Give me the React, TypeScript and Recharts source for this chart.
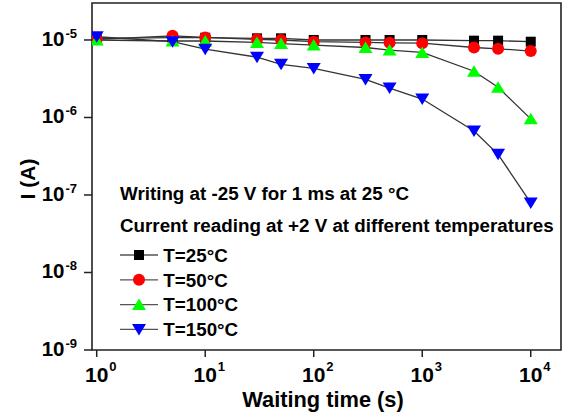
import React from "react";
import { ComposedChart, Line, XAxis, YAxis, ReferenceArea } from "recharts";

const FONT = '"Liberation Sans", Arial, Helvetica, sans-serif';

const waitingTimes = [1, 5, 10, 30, 50, 100, 300, 500, 1000, 3000, 5000, 10000];
const t25 = [1.05e-5, 1.07e-5, 1.07e-5, 1.05e-5, 1.05e-5, 1.0e-5, 1.0e-5, 1.0e-5, 1.0e-5, 0.98e-5, 0.98e-5, 0.95e-5];
const t50 = [1.02e-5, 1.13e-5, 1.08e-5, 1.02e-5, 1.0e-5, 0.95e-5, 0.93e-5, 0.92e-5, 0.91e-5, 0.8e-5, 0.77e-5, 0.72e-5];
const t100 = [1.0e-5, 0.97e-5, 0.97e-5, 0.93e-5, 0.9e-5, 0.86e-5, 0.8e-5, 0.74e-5, 0.69e-5, 3.95e-6, 2.45e-6, 0.96e-6];
const t150 = [1.1e-5, 0.95e-5, 7.6e-6, 6.0e-6, 4.85e-6, 4.3e-6, 3.1e-6, 2.4e-6, 1.73e-6, 6.7e-7, 3.35e-7, 7.9e-8];

const seriesKeys = ["t25", "t50", "t100", "t150"];
const seriesNames = ["T=25°C", "T=50°C", "T=100°C", "T=150°C"];
const seriesColors = ["#000000", "#ff0000", "#00ff00", "#0000ff"];
const seriesMarkers = ["square", "circle", "up", "down"];
const seriesValues = [t25, t50, t100, t150];

const xTicks = [1, 10, 100, 1000, 10000];
const yTicks = [1e-9, 1e-8, 1e-7, 1e-6, 1e-5];
const xDomain = [0.905, 19000];
const yDomain = [1e-9, 3e-5];

const annotationLines = [
  "Writing at -25 V for 1 ms at 25 °C",
  "Current reading at +2 V at different temperatures",
];

const data = waitingTimes.map((t, i) => {
  const row: any = { t };
  seriesKeys.forEach((k, j) => {
    row[k] = seriesValues[j][i];
  });
  return row;
});

function Marker({ kind, cx, cy, color }: any) {
  if (cx == null || cy == null) return null;
  if (kind === "square") {
    return <rect x={cx - 5} y={cy - 5} width={10} height={10} fill={color} />;
  }
  if (kind === "circle") {
    return <circle cx={cx} cy={cy} r={6} fill={color} />;
  }
  if (kind === "up") {
    return (
      <polygon
        points={`${cx - 7},${cy + 5.5} ${cx + 7},${cy + 5.5} ${cx},${cy - 6}`}
        fill={color}
      />
    );
  }
  return (
    <polygon
      points={`${cx - 7},${cy - 5.5} ${cx + 7},${cy - 5.5} ${cx},${cy + 6}`}
      fill={color}
    />
  );
}

function XTick(props: any) {
  const { x, y, payload } = props;
  const exp = Math.round(Math.log10(payload.value));
  return (
    <g>
      <text x={x} y={y + 23.3} textAnchor="middle" fontFamily={FONT} fontWeight="bold" fontSize={21} fill="#000">
        10
      </text>
      <text x={x + 12.6} y={y + 11.5} textAnchor="start" fontFamily={FONT} fontWeight="bold" fontSize={13} fill="#000">
        {exp}
      </text>
    </g>
  );
}

function YTick(props: any) {
  const { x, y, payload } = props;
  const exp = Math.round(Math.log10(payload.value));
  return (
    <g>
      <text x={x - 17.5} y={y + 6} textAnchor="end" fontFamily={FONT} fontWeight="bold" fontSize={20.5} fill="#000">
        10
      </text>
      <text x={x - 16.5} y={y - 2} textAnchor="start" fontFamily={FONT} fontWeight="bold" fontSize={13} fill="#000">
        {exp}
      </text>
    </g>
  );
}

export default function App() {
  return (
    <div style={{ position: "absolute", left: 0, top: 0, width: 567, height: 419, background: "#fff" }}>
      <ComposedChart
        width={567}
        height={419}
        data={data}
        margin={{ top: 3, right: 6, bottom: 0, left: 0 }}
      >
        <XAxis
          dataKey="t"
          type="number"
          scale="log"
          domain={xDomain}
          allowDataOverflow
          ticks={xTicks}
          interval={0}
          height={69}
          tickSize={7}
          axisLine={false}
          tickLine={{ stroke: "#222", strokeWidth: 1.5 }}
          tick={<XTick />}
        />
        <YAxis
          type="number"
          scale="log"
          domain={yDomain}
          allowDataOverflow
          ticks={yTicks}
          interval={0}
          width={92}
          tickSize={8}
          axisLine={false}
          tickLine={{ stroke: "#222", strokeWidth: 1.5 }}
          tick={<YTick />}
        />
        <ReferenceArea
          x1={xDomain[0]}
          x2={xDomain[1]}
          y1={yDomain[0]}
          y2={yDomain[1]}
          fill="none"
          fillOpacity={0}
          stroke="#222"
          strokeWidth={1.6}
        />
        {seriesKeys.map((k, j) => (
          <Line
            key={k}
            dataKey={k}
            name={seriesNames[j]}
            type="linear"
            stroke="#333"
            strokeWidth={1.3}
            isAnimationActive={false}
            dot={(p: any) => (
              <Marker key={`${k}-${p.index}`} kind={seriesMarkers[j]} cx={p.cx} cy={p.cy} color={seriesColors[j]} />
            )}
            activeDot={false}
          />
        ))}
      </ComposedChart>
      <svg
        width={567}
        height={419}
        style={{ position: "absolute", left: 0, top: 0, pointerEvents: "none" }}
      >
        {annotationLines.map((s, i) => (
          <text key={i} x={120} y={200 + i * 32} fontFamily={FONT} fontWeight="bold" fontSize={18.8} fill="#000">
            {s}
          </text>
        ))}
        {seriesNames.map((n, j) => {
          const cy = 255 + j * 24.8;
          return (
            <g key={n}>
              <line x1={120} x2={158} y1={cy} y2={cy} stroke="#555" strokeWidth={1.3} />
              <Marker kind={seriesMarkers[j]} cx={139} cy={cy} color={seriesColors[j]} />
              <text x={163.3} y={cy + 6.7} fontFamily={FONT} fontWeight="bold" fontSize={18.8} fill="#000">
                {n}
              </text>
            </g>
          );
        })}
        <text x={323} y={407} textAnchor="middle" fontFamily={FONT} fontWeight="bold" fontSize={21.8} fill="#000">
          Waiting time (s)
        </text>
        <text
          x={0}
          y={0}
          transform="translate(35,179) rotate(-90)"
          textAnchor="middle"
          fontFamily={FONT}
          fontWeight="bold"
          fontSize={21}
          fill="#000"
        >
          I (A)
        </text>
      </svg>
    </div>
  );
}
